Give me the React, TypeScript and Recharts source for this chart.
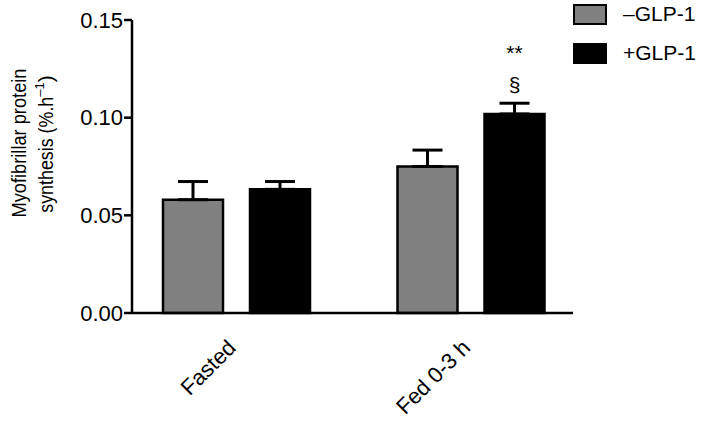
import React from "react";
import {
  Bar,
  BarChart,
  ErrorBar,
  LabelList,
  XAxis,
  YAxis,
} from "recharts";

const groups = ["Fasted", "Fed 0-3 h"];
const seriesNames = ["\u2013GLP-1", "+GLP-1"];
const minusGlp = [0.058, 0.075];
const minusErr = [0.0093, 0.0084];
const plusGlp = [0.0633, 0.1019];
const plusErr = [0.004, 0.0055];
const stars = ["", "**"];
const sections = ["", "\u00a7"];
const yTicks = [0, 0.05, 0.1, 0.15];

const data = groups.map((g, i) => ({
  group: g,
  minus: minusGlp[i],
  minusE: [0, minusErr[i]],
  plus: plusGlp[i],
  plusE: [0, plusErr[i]],
}));

const FONT = "'Liberation Sans', Arial, sans-serif";
const colors = ["#808080", "#000000"];

function XTick({ x, y, payload }: any) {
  const ax = x + 1;
  const ay = y + 28;
  return (
    <text
      x={ax}
      y={ay}
      textAnchor="end"
      fontSize={22}
      fill="#000"
      transform={`rotate(-45, ${ax}, ${ay})`}
    >
      {payload.value}
    </text>
  );
}

function YLabel() {
  return (
    <g fill="#000" fontSize={21}>
      <text
        x={26}
        y={143}
        textAnchor="middle"
        textLength={149}
        lengthAdjust="spacingAndGlyphs"
        transform="rotate(-90, 26, 143)"
      >
        Myofibrillar protein
      </text>
      <text x={53} y={144} textAnchor="middle" transform="rotate(-90, 53, 144)">
        <tspan textLength={116} lengthAdjust="spacingAndGlyphs">synthesis (%.h</tspan>
        <tspan fontSize={13} dy={-9}>{"\u20131"}</tspan>
        <tspan dy={9}>)</tspan>
      </text>
    </g>
  );
}

function Sig(props: any) {
  const { x, y, width, index } = props;
  const cx = x + width / 2;
  return (
    <g fill="#000" fontSize={21} textAnchor="middle">
      <text x={cx} y={y - 22}>{sections[index]}</text>
      <text x={cx} y={y - 54}>{stars[index]}</text>
    </g>
  );
}

export default function App() {
  return (
    <div style={{ position: "absolute", left: 0, top: 0, width: 709, height: 424, fontFamily: FONT }}>
      <BarChart
        width={709}
        height={424}
        data={data}
        margin={{ top: 20, right: 136, left: 0, bottom: 0 }}
        barCategoryGap={43}
        barGap={27}
      >
        <XAxis
          dataKey="group"
          height={111}
          tickLine={false}
          axisLine={{ stroke: "#000", strokeWidth: 2.5 }}
          tick={<XTick />}
          padding={{ left: -13, right: -15 }}
          interval={0}
        />
        <YAxis
          width={132}
          domain={[0, 0.15]}
          ticks={yTicks}
          tickFormatter={(v: number) => v.toFixed(2)}
          tick={{ fill: "#000", fontSize: 22 }}
          tickSize={8}
          tickMargin={1}
          tickLine={{ stroke: "#000", strokeWidth: 2.5 }}
          axisLine={{ stroke: "#000", strokeWidth: 2.5 }}
          label={<YLabel />}
        />
        <Bar dataKey="minus" name={seriesNames[0]} fill={colors[0]} stroke="#000" strokeWidth={2.5} barSize={60} isAnimationActive={false}>
          <ErrorBar dataKey="minusE" width={15} stroke="#000" strokeWidth={3} direction="y" />
        </Bar>
        <Bar dataKey="plus" name={seriesNames[1]} fill={colors[1]} stroke="#000" strokeWidth={2.5} barSize={60} isAnimationActive={false}>
          <ErrorBar dataKey="plusE" width={15} stroke="#000" strokeWidth={3} direction="y" />
          <LabelList dataKey="plus" content={<Sig />} />
        </Bar>
      </BarChart>
      {seriesNames.map((n, i) => (
        <div
          key={n}
          style={{ position: "absolute", left: 573, top: 4 + i * 39, height: 20, display: "flex", alignItems: "center" }}
        >
          <div style={{ width: 30, height: 17, background: colors[i], border: "2px solid #000" }} />
          <span style={{ marginLeft: 16, fontSize: 21, color: "#000", lineHeight: "20px" }}>{n}</span>
        </div>
      ))}
    </div>
  );
}
